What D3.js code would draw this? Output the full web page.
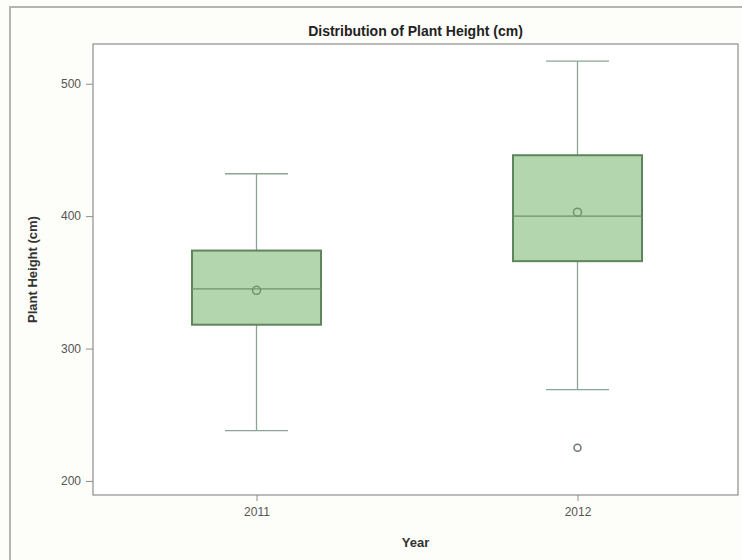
<!DOCTYPE html>
<html>
<head>
<meta charset="utf-8">
<script src="https://cdn.jsdelivr.net/npm/d3@7"></script>
<style>
  html, body { margin: 0; padding: 0; background: #fdfdf9; }
  svg { display: block; }
  text { font-family: "Liberation Sans", Arial, sans-serif; }
</style>
</head>
<body>
<svg id="chart" width="742" height="560"></svg>
<script>
// Plant height summary statistics per year (cm)
const years = ["2011", "2012"];
const whiskerLow = [238, 269];
const q1 = [318, 366];
const median = [345, 400];
const q3 = [374, 446];
const whiskerHigh = [432, 517];
const means = [344, 403];
const outlierYears = ["2012"];
const outlierValues = [225];
const yTicks = [200, 300, 400, 500];

const svg = d3.select("#chart");
const W = 742, H = 560;
const plot = { left: 93, top: 44, right: 738, bottom: 495 };

// outer frame (top and left edges)
svg.append("path")
  .attr("d", `M10,${H} L10,7 L${W},7`)
  .attr("fill", "none").attr("stroke", "#b4b4b0").attr("stroke-width", 2);

// plot area
svg.append("rect")
  .attr("x", plot.left).attr("y", plot.top)
  .attr("width", plot.right - plot.left).attr("height", plot.bottom - plot.top)
  .attr("fill", "#ffffff").attr("stroke", "#8e8e8e").attr("stroke-width", 1.2);

const x = d3.scalePoint().domain(years).range([plot.left + 3, plot.right]).padding(0.5);
const y = d3.scaleLinear().domain([189.4, 530]).range([plot.bottom, plot.top]);

const boxW = 129, capW = 63;

// axes
const yAxis = svg.append("g")
  .attr("transform", `translate(${plot.left},0)`)
  .call(d3.axisLeft(y).tickValues(yTicks).tickSize(7).tickPadding(5));
const xAxis = svg.append("g")
  .attr("transform", `translate(0,${plot.bottom})`)
  .call(d3.axisBottom(x).tickSize(6).tickPadding(6));
[yAxis, xAxis].forEach(a => {
  a.select(".domain").remove();
  a.selectAll(".tick line").attr("stroke", "#8e8e8e");
  a.selectAll(".tick text").attr("fill", "#555").style("font-size", "12px")
    .style("font-family", "'Liberation Sans', Arial, sans-serif");
});

const stats = years.map((yr, i) => ({
  yr, lo: whiskerLow[i], q1: q1[i], med: median[i], q3: q3[i], hi: whiskerHigh[i], mean: means[i]
}));

const g = svg.append("g");
const whiskerColor = "#8aa596";
const boxStroke = "#5e865a";

stats.forEach(s => {
  const cx = x(s.yr);
  // whiskers
  g.append("line").attr("x1", cx).attr("x2", cx).attr("y1", y(s.q3)).attr("y2", y(s.hi))
    .attr("stroke", whiskerColor).attr("stroke-width", 1.3);
  g.append("line").attr("x1", cx).attr("x2", cx).attr("y1", y(s.q1)).attr("y2", y(s.lo))
    .attr("stroke", whiskerColor).attr("stroke-width", 1.3);
  [s.hi, s.lo].forEach(v => {
    g.append("line").attr("x1", cx - capW / 2).attr("x2", cx + capW / 2)
      .attr("y1", y(v)).attr("y2", y(v))
      .attr("stroke", whiskerColor).attr("stroke-width", 1.3);
  });
  // box
  g.append("rect")
    .attr("x", cx - boxW / 2).attr("y", y(s.q3))
    .attr("width", boxW).attr("height", y(s.q1) - y(s.q3))
    .attr("fill", "#b3d6ae").attr("stroke", boxStroke).attr("stroke-width", 2);
  // median
  g.append("line").attr("x1", cx - boxW / 2).attr("x2", cx + boxW / 2)
    .attr("y1", y(s.med)).attr("y2", y(s.med))
    .attr("stroke", "#6f9468").attr("stroke-width", 1.3);
  // mean
  g.append("circle").attr("cx", cx).attr("cy", y(s.mean)).attr("r", 4)
    .attr("fill", "none").attr("stroke", "#6f9468").attr("stroke-width", 1.5);
});

// outliers
outlierYears.forEach((yr, i) => {
  g.append("circle").attr("cx", x(yr)).attr("cy", y(outlierValues[i])).attr("r", 3.5)
    .attr("fill", "none").attr("stroke", "#6e7a72").attr("stroke-width", 1.5);
});

// title and axis labels
svg.append("text").attr("x", (plot.left + plot.right) / 2).attr("y", 36)
  .attr("text-anchor", "middle").attr("font-weight", "bold").attr("font-size", 14)
  .attr("fill", "#222").text("Distribution of Plant Height (cm)");
svg.append("text").attr("x", (plot.left + plot.right) / 2).attr("y", 547)
  .attr("text-anchor", "middle").attr("font-weight", "bold").attr("font-size", 13)
  .attr("fill", "#333").text("Year");
svg.append("text")
  .attr("transform", `translate(37,${(plot.top + plot.bottom) / 2}) rotate(-90)`)
  .attr("text-anchor", "middle").attr("font-weight", "bold").attr("font-size", 13)
  .attr("fill", "#333").text("Plant Height (cm)");
</script>
</body>
</html>
